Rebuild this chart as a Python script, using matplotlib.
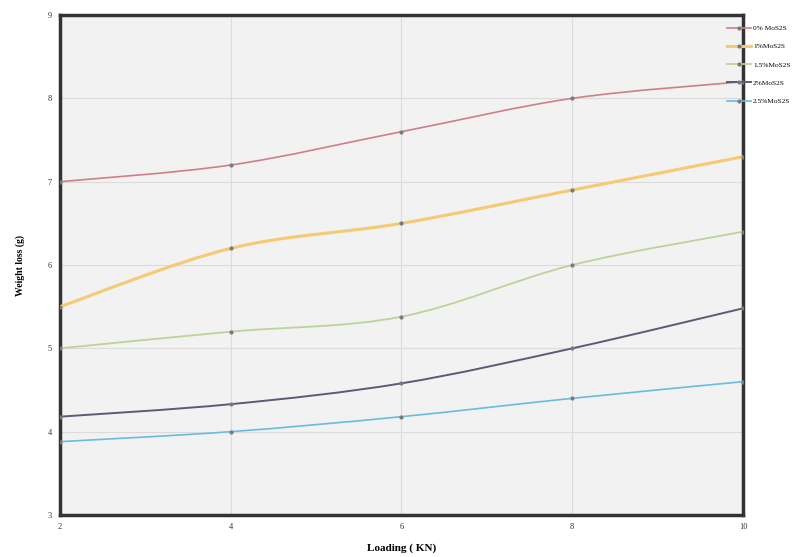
import matplotlib
matplotlib.use("Agg")
import matplotlib.pyplot as plt
import numpy as np
from matplotlib.path import Path
from matplotlib.patches import PathPatch
from matplotlib.lines import Line2D

loading = [2, 4, 6, 8, 10]
labels = ["0% MoS2S", "1%MoS2S", "1.5%MoS2S", "2%MoS2S", "2.5%MoS2S"]
wl_0 = [7.0, 7.2, 7.6, 8.0, 8.2]
wl_1 = [5.5, 6.2, 6.5, 6.9, 7.3]
wl_15 = [5.0, 5.2, 5.38, 6.0, 6.4]
wl_2 = [4.18, 4.33, 4.58, 5.0, 5.48]
wl_25 = [3.88, 4.0, 4.18, 4.4, 4.6]

series = [wl_0, wl_1, wl_15, wl_2, wl_25]
colors = ["#cf7f88", "#f6ca72", "#bcd39b", "#5b5b75", "#69bddb"]
widths = [1.2, 2.2, 1.3, 1.4, 1.2]

plt.rcParams["font.family"] = ["Liberation Serif", "DejaVu Serif"]

fig = plt.figure(figsize=(8.07, 5.57), dpi=100)
ax = fig.add_axes([0.0743, 0.0754, 0.8464, 0.8976])
ax.set_facecolor("#f2f2f2")


def smooth_path(xs, ys):
    # catmull-rom style bezier through the points
    xs = np.asarray(xs, float)
    ys = np.asarray(ys, float)
    verts = [(xs[0], ys[0])]
    codes = [Path.MOVETO]
    n = len(xs)
    for i in range(n - 1):
        p0 = (xs[max(i - 1, 0)], ys[max(i - 1, 0)])
        p1 = (xs[i], ys[i])
        p2 = (xs[i + 1], ys[i + 1])
        p3 = (xs[min(i + 2, n - 1)], ys[min(i + 2, n - 1)])
        c1 = (p1[0] + (p2[0] - p0[0]) / 6, p1[1] + (p2[1] - p0[1]) / 6)
        c2 = (p2[0] - (p3[0] - p1[0]) / 6, p2[1] - (p3[1] - p1[1]) / 6)
        verts += [c1, c2, p2]
        codes += [Path.CURVE4] * 3
    return Path(verts, codes)


handles = []
for ys, c, lw, lab in zip(series, colors, widths, labels):
    ax.add_patch(PathPatch(smooth_path(loading, ys), facecolor="none",
                           edgecolor=c, lw=lw, zorder=3))
    ax.plot(loading, ys, linestyle="none", marker="o", markersize=2,
            color="#7a7a7a", zorder=4)
    handles.append(Line2D([0], [0], color=c, lw=lw, marker="o",
                          markersize=2, markerfacecolor="#7a7a7a",
                          markeredgecolor="#7a7a7a", label=lab))

ax.set_xlim(2, 10)
ax.set_ylim(3, 9)
ax.set_xticks([2, 4, 6, 8, 10])
ax.set_yticks([3, 4, 5, 6, 7, 8, 9])
ax.grid(True, color="#dcdcdc", lw=0.8, zorder=0)
ax.set_axisbelow(True)
ax.tick_params(length=0, labelsize=6, colors="#333333", pad=6)
for sp in ax.spines.values():
    sp.set_linewidth(2.5)
    sp.set_color("#333333")

ax.set_xlabel("Loading ( KN)", fontsize=8, fontweight="bold", labelpad=9)
ax.set_ylabel("Weight loss (g)", fontsize=7, fontweight="bold", labelpad=16)

fig.legend(handles=handles, loc="upper left", bbox_to_anchor=(0.893, 0.967),
           frameon=False, fontsize=5.3, handlelength=3.2, labelspacing=1.65,
           handletextpad=0.3)

fig.savefig("out.png", dpi=100)
